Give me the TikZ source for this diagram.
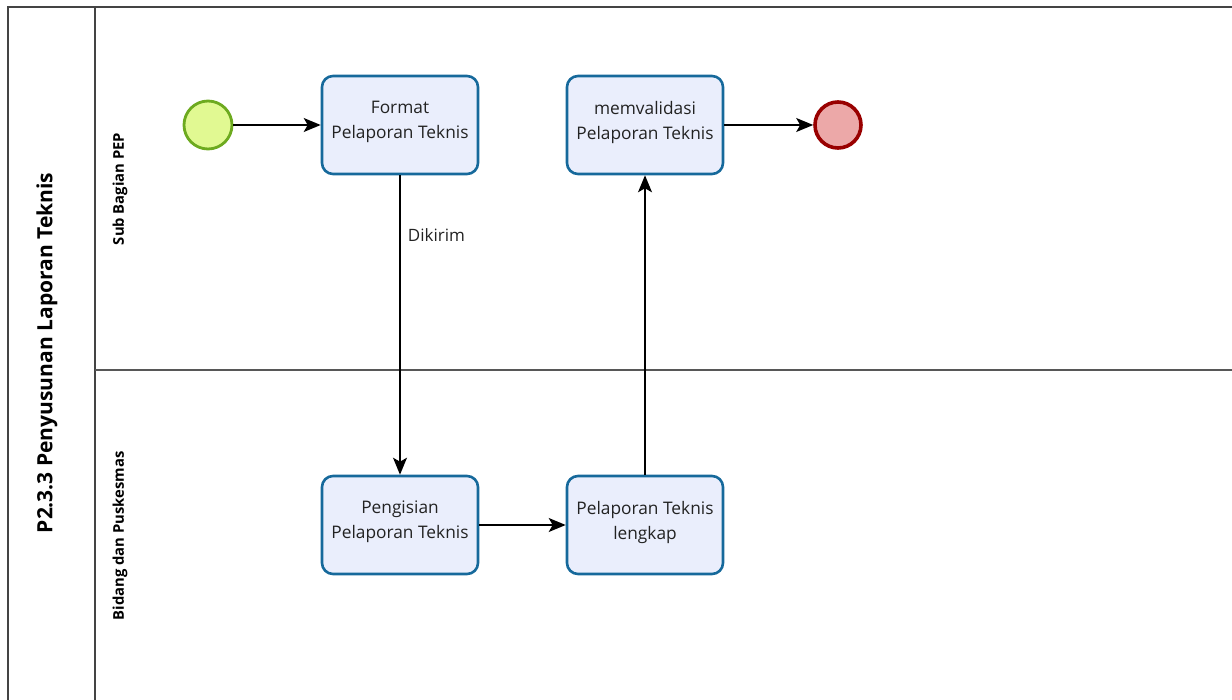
\documentclass[tikz,border=0pt]{standalone}
\usepackage{fontspec}
\setmainfont{Open Sans}
\usetikzlibrary{arrows.meta}
\definecolor{taskfill}{HTML}{EAEEFC}
\definecolor{taskline}{HTML}{16699B}
\definecolor{startfill}{HTML}{E1F992}
\definecolor{startline}{HTML}{6DAA1F}
\definecolor{endfill}{HTML}{ECA8A8}
\definecolor{endline}{HTML}{990000}
\definecolor{poolline}{HTML}{444444}
\definecolor{txt}{HTML}{222222}
\tikzset{
  task/.style={draw=taskline, fill=taskfill, line width=2.6pt, rounded corners=11pt,
    minimum width=156pt, minimum height=98pt, align=center, text=txt,
    font=\fontsize{17.3}{25}\selectfont, inner sep=0pt, text depth=10pt},
  startev/.style={circle, draw=startline, fill=startfill, line width=2.8pt, minimum size=48pt, inner sep=0pt},
  endev/.style={circle, draw=endline, fill=endfill, line width=3.6pt, minimum size=46pt, inner sep=0pt},
  flow/.style={line width=1.3pt, black, -{Stealth[length=17pt,width=14pt,inset=4pt]}},
  lanelabel/.style={rotate=90, font=\bfseries\fontsize{14.8}{17}\selectfont, text=black},
  poolborder/.style={draw=poolline, line width=2.2pt},
}
\begin{document}
\begin{tikzpicture}[x=1pt, y=-1pt]
\useasboundingbox (0,0) rectangle (1232,700);
% pool and lanes
\draw[poolborder] (1232,7) -- (8,7) -- (8,700);
\draw[draw=poolline, line width=1.8pt] (95,7) -- (95,700);
\draw[draw=poolline!90, line width=1.4pt] (95,370) -- (1232,370);
\node[lanelabel, font=\bfseries\fontsize{21}{24}\selectfont] (pool) at (47,353) {P2.3.3 Penyusunan Laporan Teknis};
\node[lanelabel] (lane1) at (120,189) {Sub Bagian PEP};
\node[lanelabel] (lane2) at (120,536) {Bidang dan Puskesmas};
% events and tasks
\node[startev] (start) at (208,125) {};
\node[task] (format) at (400,125) {Format\\Pelaporan Teknis};
\node[task] (valid) at (645,125) {memvalidasi\\Pelaporan Teknis};
\node[endev] (end) at (838,125) {};
\node[task] (isi) at (400,525) {Pengisian\\Pelaporan Teknis};
\node[task] (lengkap) at (645,525) {Pelaporan Teknis\\lengkap};
% sequence flows
\draw[flow] (start) -- (format);
\draw[flow] (format) -- node[pos=0.2, right=4pt, text=txt, font=\fontsize{17}{20}\selectfont] (dikirim) {Dikirim} (isi);
\draw[flow] (isi) -- (lengkap);
\draw[flow] (lengkap) -- (valid);
\draw[flow] (valid) -- (end);
\end{tikzpicture}
\end{document}
